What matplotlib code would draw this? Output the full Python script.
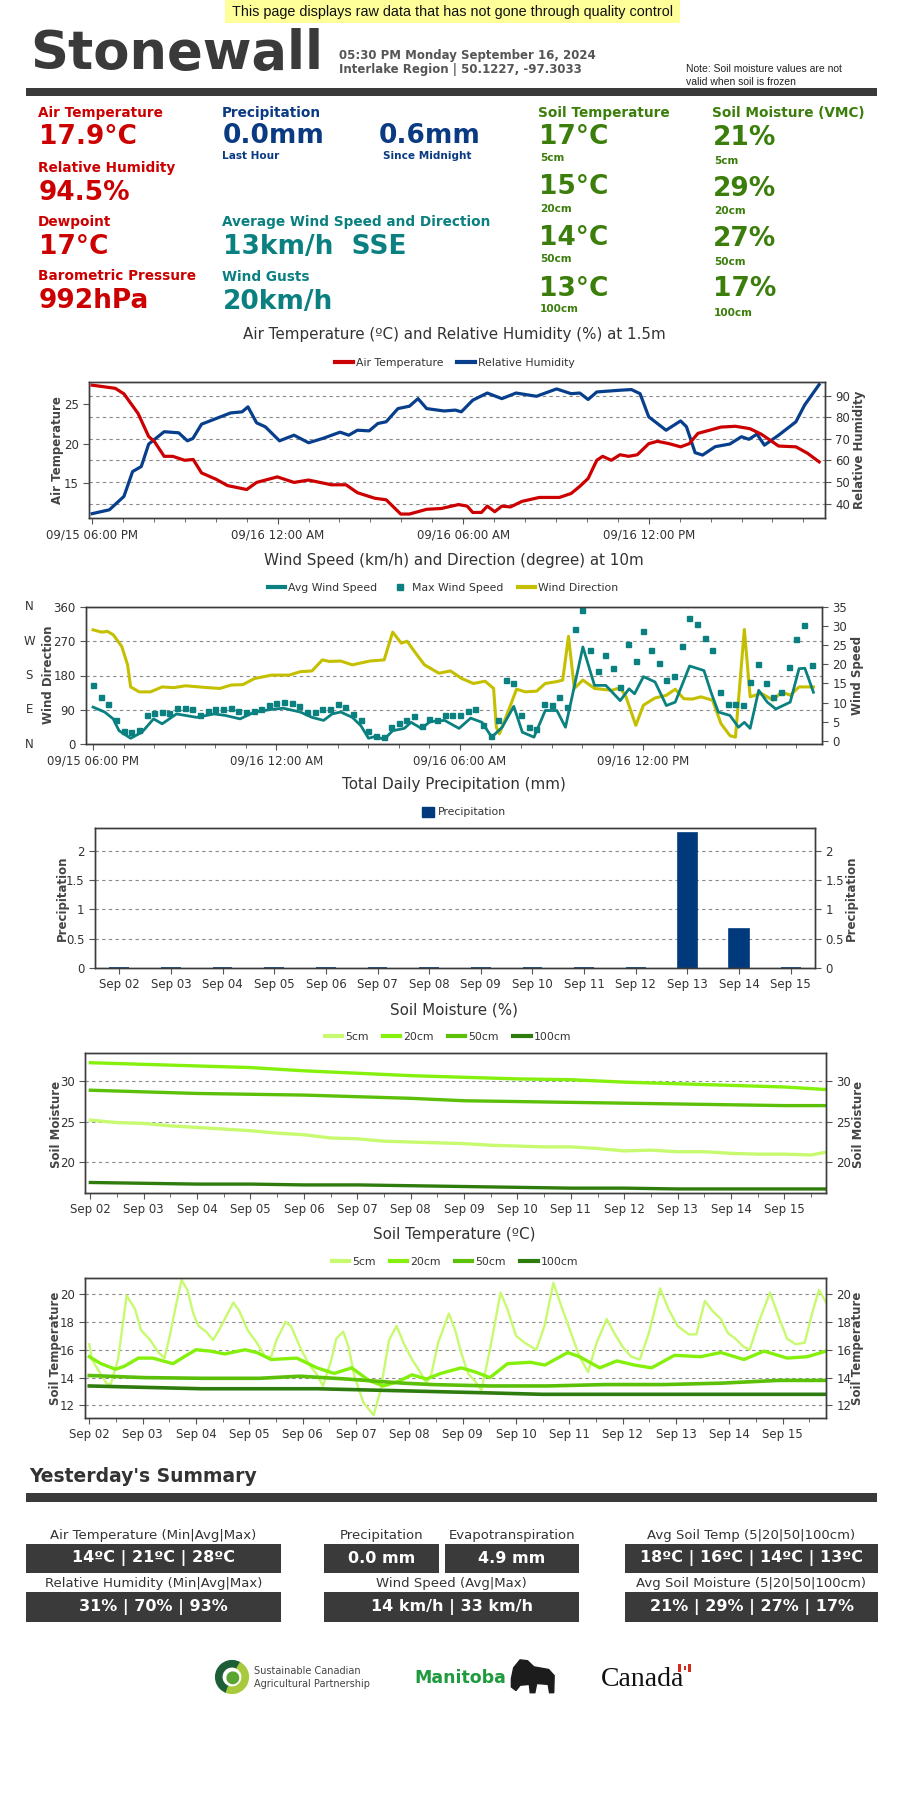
import numpy as np
import matplotlib
matplotlib.use('Agg')
import matplotlib.pyplot as plt
from matplotlib import font_manager
from matplotlib.lines import Line2D
from matplotlib.patches import Rectangle, Patch, Wedge, Polygon
from matplotlib.ticker import FormatStrFormatter

# ---------------- data ----------------
# air temperature / relative humidity, hours after 09/15 06:00 PM
temp_hours = [0, 0.75, 1.03, 1.49, 1.83, 2.01, 2.33, 2.61, 2.99, 3.27, 3.54, 4.01, 4.38, 5.0, 5.32,
              5.99, 6.53, 7.0, 7.74, 8.21, 8.58, 9.14, 9.51, 9.98, 10.26, 10.82, 11.29, 11.85, 12.13,
              12.31, 12.59, 12.78, 13.02, 13.25, 13.53, 13.9, 14.46, 15.11, 15.49, 15.77, 16.04, 16.32,
              16.51, 16.79, 17.07, 17.35, 17.63, 18.0, 18.28, 18.66, 19.03, 19.31, 19.59, 20.34, 20.8,
              21.27, 21.64, 22.2, 22.76, 23.13, 23.51]
air_temp = [27.4, 27.0, 26.3, 23.8, 20.9, 20.3, 18.4, 18.4, 17.9, 18.0, 16.3, 15.5, 14.7, 14.2, 15.1,
            15.8, 15.1, 15.4, 14.8, 14.8, 13.8, 13.1, 12.9, 11.1, 11.1, 11.7, 11.8, 12.3, 12.1,
            11.3, 11.3, 12.1, 11.4, 12.1, 12.0, 12.7, 13.2, 13.2, 13.7, 14.6, 15.6, 17.9,
            18.4, 17.9, 18.6, 18.4, 18.6, 20.0, 20.3, 20.0, 19.6, 20.0, 21.3, 22.1, 22.2,
            21.9, 21.2, 19.7, 19.6, 18.8, 17.7]
rh_hours = [0, 0.56, 1.03, 1.31, 1.59, 1.83, 2.33, 2.8, 3.08, 3.26, 3.54, 4.01, 4.48, 4.85, 5.04, 5.32,
            5.6, 6.06, 6.53, 7.0, 7.46, 8.02, 8.3, 8.58, 8.96, 9.24, 9.51, 9.89, 10.26, 10.54, 10.82,
            11.38, 11.75, 11.94, 12.31, 12.78, 13.25, 13.71, 14.37, 15.02, 15.49, 15.77, 16.04, 16.32,
            17.07, 17.44, 17.72, 18.0, 18.56, 19.03, 19.22, 19.5, 19.74, 20.15, 20.62, 21.0, 21.24,
            21.5, 21.74, 22.2, 22.76, 23.04, 23.51]
rel_hum = [35.4, 37.2, 43.4, 54.9, 57.2, 67.6, 73.3, 72.8, 69.1, 70.2, 76.8, 79.4, 82.0, 82.5, 84.8, 77.4,
           75.6, 69.1, 71.7, 68.2, 70.2, 73.1, 71.7, 74.0, 73.7, 77.1, 77.9, 84.0, 85.1, 88.6, 84.0,
           82.9, 83.3, 82.5, 87.9, 91.2, 88.6, 91.2, 89.7, 93.1, 90.9, 91.2, 88.2, 91.7,
           92.5, 92.8, 90.9, 80.2, 74.0, 78.3, 75.6, 63.6, 62.5, 66.4, 67.6, 71.0, 69.8,
           72.2, 67.1, 71.7, 77.9, 85.6, 95.1]

# wind
dir_hours = [0, 0.28, 0.47, 0.66, 0.94, 1.13, 1.23, 1.51, 1.88, 2.26, 2.64, 3.02, 3.77, 4.15, 4.52, 4.9,
             5.28, 5.84, 6.41, 6.78, 7.16, 7.5, 7.73, 8.1, 8.48, 9.05, 9.52, 9.8, 10.08, 10.27, 10.55,
             10.84, 11.31, 11.69, 12.06, 12.44, 12.82, 13.1, 13.19, 13.29, 13.57, 13.85, 14.14, 14.51,
             14.79, 15.17, 15.36, 15.55, 15.74, 16.02, 16.4, 16.96, 17.24, 17.43, 17.75, 18.0, 18.38,
             18.75, 19.04, 19.32, 19.6, 19.88, 20.26, 20.54, 20.83, 21.01, 21.3, 21.49, 21.86, 22.24,
             22.52, 22.8, 23.09, 23.56]
wind_dir = [300, 294, 296, 287, 256, 208, 150, 137, 137, 150, 148, 153, 148, 146, 155, 156,
            172, 181, 181, 190, 192, 221, 217, 218, 208, 218, 221, 294, 265, 270, 239,
            208, 186, 192, 172, 159, 165, 146, 44, 27, 84, 144, 137, 139,
            159, 164, 168, 283, 146, 168, 146, 141, 148, 124, 49, 102, 121,
            128, 144, 119, 118, 124, 115, 53, 22, 18, 301, 124, 133, 115,
            137, 128, 150, 150]
avg_hours = [0, 0.38, 0.66, 0.85, 1.23, 1.6, 1.98, 2.26, 2.73, 3.39, 3.96, 4.33, 4.81, 5.28, 5.84, 6.22,
             6.78, 7.16, 7.54, 7.82, 8.1, 8.48, 8.76, 9.01, 9.24, 9.52, 9.8, 10.18, 10.4, 10.74, 11.03,
             11.5, 11.97, 12.35, 12.72, 13.04, 13.38, 13.76, 14.04, 14.42, 14.79, 15.17, 15.45, 16.02,
             16.4, 16.77, 17.24, 17.53, 17.71, 18.0, 18.38, 18.75, 19.04, 19.51, 19.98, 20.21, 20.45,
             20.83, 21.11, 21.3, 21.49, 21.77, 22.05, 22.33, 22.8, 23.09, 23.28, 23.56]
avg_wind = [8.8, 7.5, 5.7, 2.6, 0.6, 2.2, 5.7, 4.4, 7.0, 6.1, 7.0, 6.6, 5.7, 7.5, 8.2, 8.5,
            7.5, 6.1, 5.3, 7.0, 7.5, 6.1, 3.9, 0.6, 1.1, 0.3, 2.6, 3.2, 4.8, 3.2, 5.0,
            5.3, 3.2, 5.9, 4.8, 0.9, 3.5, 9.0, 2.2, 0.9, 7.9, 7.9, 3.5, 24.6,
            14.5, 14.5, 10.5, 13.6, 12.3, 16.8, 15.4, 9.2, 10.1, 19.6, 18.4, 12.7, 7.5,
            6.6, 3.5, 4.8, 3.2, 13.2, 10.1, 8.3, 10.1, 18.9, 19.0, 12.7]
# max wind, one reading every 15 minutes from 06:00 PM
max_wind = [14.5, 11.4, 9.6, 5.5, 2.6, 2.2, 2.9, 6.6, 7.3, 7.5,
            7.3, 8.5, 8.5, 8.2, 6.6, 7.9, 8.3, 8.3, 8.5, 7.9,
            7.5, 7.9, 8.3, 9.4, 9.9, 10.1, 9.9, 9.0, 7.5, 7.5,
            8.3, 8.3, 9.6, 8.8, 7.0, 5.3, 2.6, 1.3, 0.9, 3.5,
            4.6, 5.3, 6.4, 3.9, 5.7, 5.3, 6.8, 6.8, 6.8, 7.9,
            8.2, 4.1, 1.3, 5.5, 16.0, 15.2, 6.8, 3.5, 3.1, 9.6,
            9.4, 11.4, 8.8, 29.2, 34.2, 23.9, 18.4, 22.4, 19.0, 14.0,
            25.4, 20.9, 28.7, 23.7, 20.4, 15.8, 17.1, 24.8, 32.2, 30.7,
            27.0, 23.9, 12.7, 9.6, 9.6, 9.4, 15.5, 20.2, 15.2, 11.4,
            12.7, 19.3, 26.8, 30.4, 19.9]
time_labels = ['09/15 06:00 PM', '09/16 12:00 AM', '09/16 06:00 AM', '09/16 12:00 PM']
time_ticks = [0, 6, 12, 18]
compass = ['N', 'E', 'S', 'W', 'N']
compass_deg = [0, 90, 180, 270, 360]

# precipitation
day_labels = ['Sep 02', 'Sep 03', 'Sep 04', 'Sep 05', 'Sep 06', 'Sep 07', 'Sep 08',
              'Sep 09', 'Sep 10', 'Sep 11', 'Sep 12', 'Sep 13', 'Sep 14', 'Sep 15']
precip = [0, 0, 0, 0, 0, 0, 0, 0, 0, 0, 0, 2.31, 0.66, 0]

# soil moisture, days after Sep 02
sm_days = [0, 1, 2, 3, 4, 5, 6, 7, 8, 9, 10, 11, 12, 13, 13.75]
sm_20 = [32.3, 32.1, 31.9, 31.7, 31.3, 31.0, 30.7, 30.5, 30.3, 30.2, 29.9, 29.7, 29.5, 29.3, 29.0]
sm_50 = [28.9, 28.7, 28.5, 28.4, 28.3, 28.1, 27.9, 27.6, 27.5, 27.4, 27.3, 27.2, 27.1, 27.0, 27.0]
sm_100 = [17.5, 17.4, 17.3, 17.3, 17.2, 17.2, 17.1, 17.0, 16.9, 16.8, 16.8, 16.7, 16.7, 16.7, 16.7]
sm5_days = [0, 0.5, 1, 1.5, 2, 2.5, 3, 3.5, 4, 4.5, 5, 5.5, 6, 6.5, 7, 7.5, 8, 8.5, 9, 9.5,
            10, 10.5, 11, 11.5, 12, 12.5, 13, 13.5, 13.75]
sm_5 = [25.2, 24.9, 24.8, 24.5, 24.3, 24.1, 23.9, 23.6, 23.4, 23.0, 22.9, 22.6, 22.5, 22.4, 22.3,
        22.1, 22.0, 21.9, 21.9, 21.7, 21.4, 21.5, 21.3, 21.3, 21.1, 21.0, 21.0, 20.9, 21.2]

# soil temperature, days after Sep 02
st5_days = [0, 0.05, 0.16, 0.32, 0.4, 0.54, 0.7, 0.86, 0.97, 1.14, 1.3, 1.41, 1.51, 1.62, 1.73, 1.84,
            1.95, 2.05, 2.19, 2.32, 2.43, 2.54, 2.7, 2.81, 2.97, 3.14, 3.3, 3.41, 3.51, 3.68, 3.78,
            3.95, 4.11, 4.27, 4.38, 4.54, 4.63, 4.76, 4.86, 4.97, 5.14, 5.33, 5.46, 5.62, 5.76, 5.89,
            6.05, 6.22, 6.32, 6.41, 6.54, 6.74, 6.86, 6.97, 7.1, 7.24, 7.35, 7.51, 7.71, 7.84, 8.0,
            8.16, 8.38, 8.54, 8.7, 8.86, 9.03, 9.19, 9.35, 9.51, 9.7, 9.84, 10.0, 10.16, 10.32,
            10.49, 10.7, 10.86, 11.03, 11.24, 11.38, 11.54, 11.68, 11.84, 11.97, 12.11, 12.27,
            12.38, 12.54, 12.76, 12.92, 13.08, 13.24, 13.41, 13.57, 13.68, 13.81]
st_5 = [16.4, 15.3, 14.6, 13.6, 13.5, 15.3, 19.9, 18.9, 17.4, 16.7, 15.8, 15.4, 17.0, 19.1, 21.0, 20.3,
        18.6, 17.7, 17.3, 16.7, 17.4, 18.2, 19.4, 18.8, 17.4, 16.5, 15.5, 15.5, 16.7, 18.0, 17.7,
        16.2, 15.0, 14.2, 13.4, 15.3, 16.8, 17.3, 16.2, 14.1, 12.2, 11.3, 13.1, 16.7, 17.7, 16.5,
        15.3, 14.3, 13.6, 14.2, 16.5, 18.6, 17.4, 15.8, 14.3, 13.7, 13.1, 16.0, 20.1, 18.9, 17.0,
        16.5, 16.0, 17.8, 20.8, 19.0, 17.2, 15.5, 14.4, 16.5, 18.2, 17.2, 16.2, 15.5, 15.3,
        17.2, 20.4, 18.9, 17.7, 17.1, 17.1, 19.5, 18.8, 18.2, 17.2, 16.8, 16.2,
        16.0, 17.9, 20.1, 18.4, 16.8, 16.4, 16.5, 18.9, 20.3, 19.4]
st20_days = [0, 0.22, 0.49, 0.65, 0.92, 1.19, 1.57, 1.78, 2.0, 2.27, 2.54, 2.92, 3.14, 3.41, 3.89, 4.27,
             4.59, 4.92, 5.24, 5.51, 5.78, 6.05, 6.32, 6.59, 6.97, 7.24, 7.51, 7.84, 8.27, 8.54, 8.97,
             9.19, 9.57, 9.89, 10.22, 10.54, 10.97, 11.46, 11.84, 12.27, 12.65, 13.08, 13.46, 13.81]
st_20 = [15.5, 15.0, 14.6, 14.8, 15.4, 15.4, 15.0, 15.5, 16.0, 15.9, 15.7, 16.0, 15.8, 15.3, 15.4, 14.7,
         14.3, 14.7, 13.8, 13.4, 13.7, 14.2, 13.9, 14.3, 14.7, 14.4, 14.0, 15.0, 15.1, 14.9, 15.8,
         15.5, 14.7, 15.2, 14.9, 14.7, 15.6, 15.5, 15.8, 15.3, 15.9, 15.4, 15.5, 15.9]
st50_days = [0, 1.03, 2.11, 3.19, 3.95, 4.81, 5.89, 6.43, 7.51, 8.59, 9.68, 10.76, 11.84, 12.92, 13.81]
st_50 = [14.15, 14.0, 13.95, 13.95, 14.1, 13.9, 13.6, 13.5, 13.4, 13.4, 13.5, 13.5, 13.6, 13.8, 13.8]
st100_days = [0, 1.03, 2.11, 3.19, 4.27, 5.35, 6.43, 7.51, 8.49, 9.68, 11.3, 13.81]
st_100 = [13.4, 13.3, 13.2, 13.2, 13.2, 13.1, 13.0, 12.9, 12.8, 12.8, 12.8, 12.8]
depths = ['5cm', '20cm', '50cm', '100cm']

# ---------------- styles ----------------
W, H = 900, 1800
RED = '#cc0000'
NAVY = '#0a3a82'
TEAL = '#0a8080'
GREEN = '#3b7e0b'
DARK = '#3a3a3a'
C_RH = '#083f8c'
C_YEL = '#c4c000'
C_PRE = '#003a7d'
SOIL = ['#c8fa70', '#84f00c', '#5cbf08', '#2f7c0e']

installed = {f.name for f in font_manager.fontManager.ttflist}
NARROW = 'Liberation Sans Narrow' if 'Liberation Sans Narrow' in installed else 'DejaVu Sans'
plt.rcParams['font.family'] = ['DejaVu Sans']

fig = plt.figure(figsize=(W / 100, H / 100), dpi=100)


def ax_px(l, t, r, b):
    return fig.add_axes([l / W, 1 - b / H, (r - l) / W, (b - t) / H])


def txt(x, y, s, **kw):
    kw.setdefault('va', 'center')
    kw.setdefault('ha', 'left')
    return fig.text(x / W, 1 - y / H, s, **kw)


def rect(l, t, r, b, color):
    fig.add_artist(Rectangle((l / W, 1 - b / H), (r - l) / W, (b - t) / H,
                             transform=fig.transFigure, facecolor=color,
                             edgecolor='none', zorder=0))


def frame(ax):
    for s in ax.spines.values():
        s.set_color('#3c3c3c')
        s.set_linewidth(1.0)
    ax.tick_params(which='both', direction='out', color='#555555',
                   labelcolor='#333333', labelsize=8.5)
    ax.tick_params(which='major', length=4)
    ax.tick_params(which='minor', length=3)


def grid_y(ax):
    ax.grid(axis='y', color='#8a8a8a', linestyle=(0, (3, 3)), linewidth=0.8)
    ax.set_axisbelow(True)


def legend(handles, labels, xc, y, **kw):
    opts = dict(loc='center', bbox_to_anchor=(xc / W, 1 - y / H), ncol=len(handles),
                frameon=False, fontsize=7.8, handlelength=1.6, handletextpad=0.3,
                columnspacing=1.3, labelcolor='#333333')
    opts.update(kw)
    fig.legend(handles, labels, **opts)


def side_label(x, y, s):
    txt(x, y, s, rotation=90, ha='center', fontsize=8.5, fontweight='bold', color='#444444')


def title(y, s):
    txt(454, y, s, ha='center', fontsize=10.9, color='#333333')


def hour_axis(ax, lo, hi):
    ax.set_xlim(lo, hi)
    ax.set_xticks(time_ticks)
    ax.set_xticklabels(time_labels)
    ax.set_xticks(range(24), minor=True)


def day_axis(ax, lo, hi):
    ax.set_xlim(lo, hi)
    ax.set_xticks(range(len(day_labels)))
    ax.set_xticklabels(day_labels)
    ax.set_xticks(np.arange(0.5, len(day_labels), 1), minor=True)


# ---------------- header ----------------
rect(225, 0, 680, 23, '#ffff99')
txt(452, 12, 'This page displays raw data that has not gone through quality control',
    ha='center', fontsize=10.4, color='#111111', family=['Liberation Sans', 'DejaVu Sans'])
txt(30, 54, 'Stonewall', fontsize=46 if NARROW != 'DejaVu Sans' else 38,
    fontweight='bold', color=DARK, family=[NARROW, 'DejaVu Sans'])
txt(339, 55, '05:30 PM Monday September 16, 2024', fontsize=8.5, fontweight='bold', color='#555555')
txt(339, 70, 'Interlake Region | 50.1227, -97.3033', fontsize=8.5, fontweight='bold', color='#555555')
txt(686, 69, 'Note: Soil moisture values are not', fontsize=7.5, color='#222222',
    family=['Liberation Sans', 'DejaVu Sans'])
txt(686, 82, 'valid when soil is frozen', fontsize=7.5, color='#222222',
    family=['Liberation Sans', 'DejaVu Sans'])
rect(26, 88, 877, 96, DARK)

# ---------------- current conditions ----------------
LBL = dict(fontsize=9.8, fontweight='bold')
VAL = dict(fontsize=19, fontweight='bold')
SUB = dict(fontsize=7.6, fontweight='bold')
col1 = [('Air Temperature', '17.9°C', 113, 137), ('Relative Humidity', '94.5%', 168, 193),
        ('Dewpoint', '17°C', 222, 247), ('Barometric Pressure', '992hPa', 276, 301)]
for lab, val, yl, yv in col1:
    txt(38, yl, lab, color=RED, **LBL)
    txt(39, yv, val, color=RED, **VAL)

txt(222, 113, 'Precipitation', color=NAVY, **LBL)
txt(223, 136, '0.0mm', color=NAVY, **VAL)
txt(222, 156, 'Last Hour', color=NAVY, **SUB)
txt(379, 136, '0.6mm', color=NAVY, **VAL)
txt(383, 156, 'Since Midnight', color=NAVY, **SUB)
txt(222, 222, 'Average Wind Speed and Direction', color=TEAL, **LBL)
txt(223, 247, '13km/h  SSE', color=TEAL, **VAL)
txt(222, 277, 'Wind Gusts', color=TEAL, **LBL)
txt(223, 302, '20km/h', color=TEAL, **VAL)

soil_t_now = ['17°C', '15°C', '14°C', '13°C']
soil_m_now = ['21%', '29%', '27%', '17%']
txt(538, 113, 'Soil Temperature', color=GREEN, **LBL)
txt(712, 113, 'Soil Moisture (VMC)', color=GREEN, **LBL)
for i, (tv, mv, d) in enumerate(zip(soil_t_now, soil_m_now, depths)):
    yv = 137 + i * 50.5
    txt(539, yv, tv, color=GREEN, **VAL)
    txt(540, yv + 21, d, color=GREEN, **SUB)
    txt(713, yv + 1, mv, color=GREEN, **VAL)
    txt(714, yv + 24, d, color=GREEN, **SUB)

# ---------------- chart 1: air temperature & RH ----------------
title(335, 'Air Temperature (ºC) and Relative Humidity (%) at 1.5m')
ax1 = ax_px(89, 382, 825, 518)
ax1b = ax1.twinx()
ax1.set_zorder(ax1b.get_zorder() + 1)
ax1.patch.set_visible(False)
ax1b.plot(rh_hours, rel_hum, color=C_RH, lw=2.3)
ax1.plot(temp_hours, air_temp, color=RED, lw=2.3)
hour_axis(ax1, -0.1, 23.7)
ax1.set_ylim(10.6, 27.8)
ax1.set_yticks([15, 20, 25])
ax1b.set_ylim(33.4, 96.3)
ax1b.set_yticks(range(40, 91, 10))
grid_y(ax1b)
frame(ax1)
frame(ax1b)
side_label(58, 450, 'Air Temperature')
side_label(860, 450, 'Relative Humidity')
legend([Line2D([], [], color=RED, lw=3), Line2D([], [], color=C_RH, lw=3)],
       ['Air Temperature', 'Relative Humidity'], 455, 363)

# ---------------- chart 2: wind ----------------
title(560, 'Wind Speed (km/h) and Direction (degree) at 10m')
ax2 = ax_px(86, 607, 822, 744)
ax2b = ax2.twinx()
ax2.plot(dir_hours, wind_dir, color=C_YEL, lw=2.2)
ax2b.plot(avg_hours, avg_wind, color=TEAL, lw=2.0)
ax2b.plot(np.arange(len(max_wind)) * 0.25, max_wind, ls='none', marker='s', ms=3.6,
          color=TEAL)
hour_axis(ax2, -0.23, 23.84)
ax2.set_ylim(0, 360)
ax2.set_yticks(compass_deg)
ax2b.set_ylim(-0.9, 35.1)
ax2b.set_yticks(range(0, 36, 5))
grid_y(ax2)
frame(ax2)
frame(ax2b)
for lab, deg in zip(compass, compass_deg):
    ax2.text(-0.077, deg, lab, transform=ax2.get_yaxis_transform(), ha='center', va='center',
             fontsize=8.5, color='#333333')
side_label(49, 675, 'Wind Direction')
side_label(858, 675, 'Wind Speed')
legend([Line2D([], [], color=TEAL, lw=3),
        Line2D([], [], ls='none', marker='s', ms=4, color=TEAL),
        Line2D([], [], color=C_YEL, lw=3)],
       ['Avg Wind Speed', 'Max Wind Speed', 'Wind Direction'], 443, 588)

# ---------------- chart 3: precipitation ----------------
title(785, 'Total Daily Precipitation (mm)')
ax3 = ax_px(95, 828, 815, 968)
ax3b = ax3.twinx()
ax3.bar(np.arange(len(day_labels)), precip, width=0.38, color=C_PRE, edgecolor=C_PRE,
        linewidth=1.2)
ax3.set_xlim(-0.47, 13.47)
ax3.set_xticks(range(len(day_labels)))
ax3.set_xticklabels(day_labels)
for a in (ax3, ax3b):
    a.set_ylim(0, 2.39)
    a.set_yticks([0, 0.5, 1, 1.5, 2])
    a.yaxis.set_major_formatter(FormatStrFormatter('%g'))
    frame(a)
grid_y(ax3)
side_label(62, 898, 'Precipitation')
side_label(851, 898, 'Precipitation')
legend([Patch(color=C_PRE)], ['Precipitation'], 464, 812, handlelength=1.1, handleheight=1.1)

# ---------------- chart 4: soil moisture ----------------
title(1010, 'Soil Moisture (%)')
ax4 = ax_px(85, 1053, 826, 1193)
ax4b = ax4.twinx()
sm_series = [(sm5_days, sm_5), (sm_days, sm_20), (sm_days, sm_50), (sm_days, sm_100)]
for (d, v), c in zip(sm_series, SOIL):
    ax4.plot(d, v, color=c, lw=2.4)
day_axis(ax4, -0.1, 13.78)
for a in (ax4, ax4b):
    a.set_ylim(16.2, 33.5)
    a.set_yticks([20, 25, 30])
    frame(a)
grid_y(ax4)
side_label(56, 1124, 'Soil Moisture')
side_label(858, 1124, 'Soil Moisture')
legend([Line2D([], [], color=c, lw=3) for c in SOIL], depths, 448, 1037)

# ---------------- chart 5: soil temperature ----------------
title(1235, 'Soil Temperature (ºC)')
ax5 = ax_px(85, 1278, 826, 1418)
ax5b = ax5.twinx()
st_series = [(st5_days, st_5, 1.7), (st20_days, st_20, 2.4), (st50_days, st_50, 2.6),
             (st100_days, st_100, 2.6)]
for (d, v, lw), c in zip(st_series, SOIL):
    ax5.plot(d, v, color=c, lw=lw)
day_axis(ax5, -0.08, 13.81)
for a in (ax5, ax5b):
    a.set_ylim(11.1, 21.15)
    a.set_yticks([12, 14, 16, 18, 20])
    frame(a)
grid_y(ax5)
side_label(55, 1348, 'Soil Temperature')
side_label(857, 1348, 'Soil Temperature')
legend([Line2D([], [], color=c, lw=3) for c in SOIL], depths, 455, 1262)

# ---------------- yesterday's summary ----------------
txt(29, 1477, "Yesterday's Summary", fontsize=13.5, fontweight='bold', color='#333333')
rect(26, 1493, 877, 1502, DARK)
boxes = [
    (26, 1544, 281, 1573, 'Air Temperature (Min|Avg|Max)', '14ºC | 21ºC | 28ºC'),
    (324, 1544, 439, 1573, 'Precipitation', '0.0 mm'),
    (445, 1544, 579, 1573, 'Evapotranspiration', '4.9 mm'),
    (625, 1544, 878, 1573, 'Avg Soil Temp (5|20|50|100cm)', '18ºC | 16ºC | 14ºC | 13ºC'),
    (26, 1592, 281, 1622, 'Relative Humidity (Min|Avg|Max)', '31% | 70% | 93%'),
    (324, 1592, 579, 1622, 'Wind Speed (Avg|Max)', '14 km/h | 33 km/h'),
    (625, 1592, 878, 1622, 'Avg Soil Moisture (5|20|50|100cm)', '21% | 29% | 27% | 17%'),
]
for l, t, r, b, lab, val in boxes:
    rect(l, t, r, b, DARK)
    txt((l + r) / 2, t - 9, lab, ha='center', fontsize=9.5, color='#333333')
    txt((l + r) / 2, (t + b) / 2, val, ha='center', fontsize=11.5, fontweight='bold',
        color='white')

# ---------------- partner logos ----------------
lg = ax_px(213, 1659, 251, 1695)
lg.set_xlim(-1.1, 1.1)
lg.set_ylim(-1.1, 1.1)
lg.set_aspect('equal')
lg.axis('off')
lg.add_patch(Wedge((0, 0), 1.0, 60, 250, width=0.38, color='#1d5e36'))
lg.add_patch(Wedge((0, 0), 1.0, 250, 420, width=0.38, color='#a7c93b'))
lg.add_patch(Wedge((0.05, -0.05), 0.35, 0, 360, color='#5aa532'))
txt(254, 1671, 'Sustainable Canadian', fontsize=7, color='#444444')
txt(254, 1684, 'Agricultural Partnership', fontsize=7, color='#444444')

txt(414, 1678, 'Manitoba', fontsize=17 if NARROW != 'DejaVu Sans' else 12.5,
    fontweight='bold', color='#1f9a3e', family=[NARROW, 'DejaVu Sans'])
bs = ax_px(510, 1659, 556, 1694)
bs.set_xlim(0, 10)
bs.set_ylim(0, 8)
bs.axis('off')
bs.add_patch(Polygon([(0.3, 3.5), (0.8, 6.0), (2.2, 7.8), (3.8, 7.6), (5.2, 6.2), (8.4, 5.6),
                      (9.6, 4.2), (9.5, 0.3), (8.6, 0.3), (8.3, 2.2), (5.8, 2.4), (5.4, 0.3),
                      (4.4, 0.3), (4.2, 2.2), (2.2, 2.0), (1.3, 0.8), (0.3, 1.6)],
                     closed=True, color='#1c1c1c'))

txt(601, 1679, 'Canada', fontsize=20, color='#111111',
    family=['Liberation Serif', 'DejaVu Serif'])
rect(678, 1664, 681, 1672, '#d52b1e')
rect(688, 1664, 691, 1672, '#d52b1e')
rect(683.5, 1666, 685.5, 1670, '#d52b1e')

fig.savefig('out.png', dpi=100, facecolor='white')
